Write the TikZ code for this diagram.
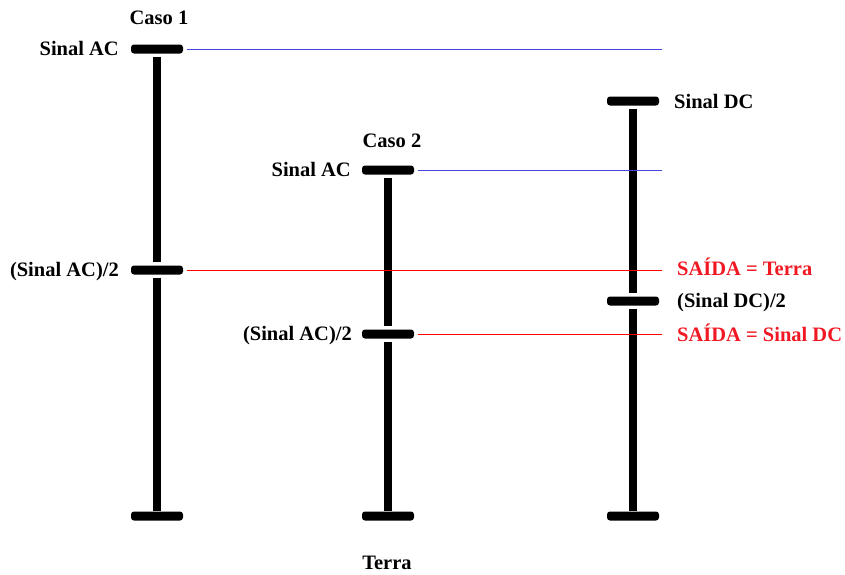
\documentclass[tikz,border=0pt]{standalone}
\usepackage{fontspec}
\setmainfont{Liberation Serif}
\usetikzlibrary{positioning}
\definecolor{lineblue}{RGB}{70,70,225}
\definecolor{outred}{RGB}{240,25,35}

\begin{document}
\begin{tikzpicture}[
    x=1pt, y=-1pt,
    tick/.style={rectangle, rounded corners=3pt, fill=black, minimum width=52pt, minimum height=9pt, inner sep=0pt},
    bar/.style={line width=8pt},
    level/.style={line width=1pt, shorten <=4pt},
    lbl/.style={font=\bfseries\fontsize{20.5}{24}\selectfont, inner sep=0pt},
    redlbl/.style={lbl, text=outred}
]
\useasboundingbox (0,0) rectangle (845,574);

% ticks
\node (acTopA) [tick] at (157,49) {};
\node (acMidA) [tick] at (157,270) {};
\node (gndA) [tick] at (157,516) {};
\node (acTopB) [tick] at (388,170) {};
\node (acMidB) [tick] at (388,334) {};
\node (gndB) [tick] at (388,516) {};
\node (dcTop) [tick] at (633,101) {};
\node (dcMid) [tick] at (633,301) {};
\node (gndC) [tick] at (633,516) {};

\coordinate (endA) at (662,49);
\coordinate (endB) at (662,170);
\coordinate (endC) at (662,270);
\coordinate (endD) at (662,334);

% bars
\draw [bar, shorten <=3pt, shorten >=3pt] (acTopA) -- (acMidA);
\draw [bar, shorten <=3pt] (acMidA) -- (gndA);
\draw [bar, shorten <=3pt, shorten >=3pt] (acTopB) -- (acMidB);
\draw [bar, shorten <=3pt] (acMidB) -- (gndB);
\draw [bar, shorten <=3pt, shorten >=3pt] (dcTop) -- (dcMid);
\draw [bar, shorten <=3pt] (dcMid) -- (gndC);

% levels
\draw [level, lineblue] (acTopA.east) -- (endA);
\draw [level, lineblue] (acTopB.east) -- (endB);
\draw [level, red] (acMidA.east) -- (endC);
\draw [level, red] (acMidB.east) -- (endD);

% labels
\node (caso1) [lbl, anchor=base] at (159,24) {Caso 1};
\node (caso2) [lbl, anchor=base] at (392,147) {Caso 2};
\node (acA) [lbl, anchor=base east] at (119,55) {Sinal AC};
\node (halfA) [lbl, anchor=base east] at (119,276) {(Sinal AC)/2};
\node (acB) [lbl, anchor=base east] at (351,176) {Sinal AC};
\node (halfB) [lbl, anchor=base east] at (352,340) {(Sinal AC)/2};
\node (dcA) [lbl, anchor=base west] at (674,108) {Sinal DC};
\node (outA) [redlbl, anchor=base west] at (677,275) {SAÍDA = Terra};
\node (dcB) [lbl, anchor=base west] at (677,307) {(Sinal DC)/2};
\node (outB) [redlbl, anchor=base west] at (677,341) {SAÍDA = Sinal DC};
\node (terra) [lbl, anchor=base] at (387,569) {Terra};

\end{tikzpicture}
\end{document}
